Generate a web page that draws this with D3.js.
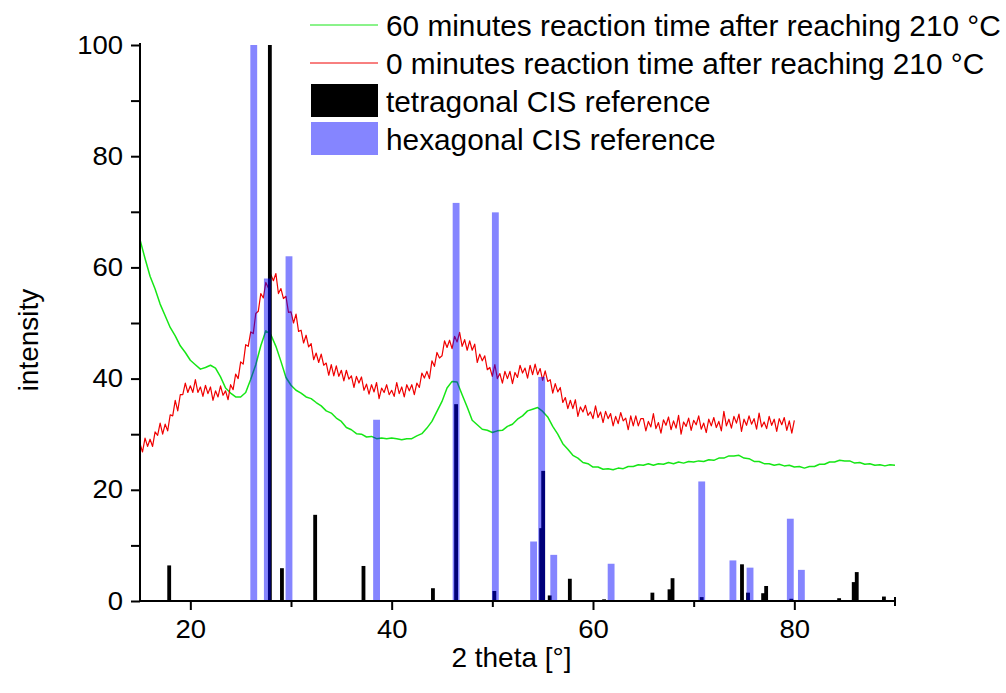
<!DOCTYPE html>
<html>
<head>
<meta charset="utf-8">
<script src="https://cdn.jsdelivr.net/npm/d3@7/dist/d3.min.js"></script>
<style>
  html, body { margin: 0; padding: 0; background: #fff; }
  svg { display: block; font-family: "Liberation Sans", Arial, sans-serif; }
</style>
</head>
<body>
<svg id="chart" width="1006" height="693"></svg>
<script>
// ---------- DATA ----------
const legendLabels = [
  "60 minutes reaction time after reaching 210 °C",
  "0 minutes reaction time after reaching 210 °C",
  "tetragonal CIS reference",
  "hexagonal CIS reference"
];
const xTicksMajor = [20, 40, 60, 80];
const xTicksMinor = [30, 50, 70];
const yTicks = [0, 10, 20, 30, 40, 50, 60, 70, 80, 90, 100];
const yTickLabels = [0, 20, 40, 60, 80, 100];
const xTitle = "2 theta [°]";
const yTitle = "intensity";

// 60 min pattern (green), sampled every 0.5° starting at 15°
const green60Start = 15, green60Step = 0.5;
const green60 = [
  65.0, 61.6, 58.4, 56.1, 53.4, 51.3, 49.2, 47.7, 45.9, 44.7,
  43.3, 42.5, 41.7, 42.0, 42.4, 41.9, 40.3, 38.3, 37.4, 36.7,
  36.7, 37.5, 39.9, 42.5, 45.9, 48.6, 47.9, 45.8, 43.1, 40.2,
  38.8, 37.9, 37.4, 36.7, 36.4, 35.7, 35.1, 34.2, 33.8, 32.9,
  32.3, 31.2, 30.8, 30.1, 30.0, 29.5, 29.6, 29.2, 29.3, 29.2,
  29.3, 29.2, 29.0, 29.2, 29.2, 29.7, 30.1, 31.1, 32.3, 34.1,
  35.9, 38.3, 39.5, 39.4, 37.1, 34.9, 32.5, 31.7, 30.9, 30.7,
  30.3, 30.6, 30.7, 31.4, 31.8, 32.7, 33.3, 34.2, 34.5, 34.8,
  34.1, 33.1, 31.4, 30.0, 28.3, 27.3, 26.2, 25.7, 24.9, 24.7,
  24.1, 24.1, 23.7, 23.8, 23.6, 23.9, 23.8, 24.2, 24.2, 24.5,
  24.4, 24.7, 24.4, 24.7, 24.6, 24.9, 24.7, 25.0, 24.8, 25.1,
  25.0, 25.2, 25.1, 25.4, 25.3, 25.7, 25.7, 26.1, 26.1, 26.2,
  25.7, 25.6, 25.1, 25.1, 24.7, 24.7, 24.4, 24.6, 24.3, 24.4,
  24.1, 24.2, 23.9, 24.2, 24.2, 24.6, 24.6, 25.0, 25.0, 25.3,
  25.2, 25.2, 24.8, 24.9, 24.6, 24.7, 24.4, 24.5, 24.3, 24.5,
  24.4
];

// 0 min pattern (red), sampled every 0.25° starting at 15°
const red0Start = 15, red0Step = 0.25;
const red0 = [
  28.3, 26.8, 29.3, 27.8, 29.1, 27.8, 30.4, 29.8, 32.0, 30.0,
  31.8, 30.6, 33.5, 33.3, 36.1, 34.2, 37.1, 37.1, 39.2, 37.5,
  38.7, 37.5, 39.8, 37.5, 38.5, 36.8, 38.8, 37.3, 38.5, 36.1,
  37.8, 36.7, 38.7, 37.0, 37.8, 36.2, 38.9, 38.0, 40.8, 40.0,
  43.0, 42.6, 46.1, 45.8, 48.4, 48.1, 51.7, 52.1, 55.3, 54.5,
  57.3, 56.3, 58.7, 57.6, 58.9, 55.3, 56.2, 54.4, 54.8, 51.9,
  52.0, 50.0, 51.6, 48.5, 48.7, 46.4, 47.8, 45.7, 46.3, 43.4,
  44.6, 42.9, 44.4, 42.4, 42.8, 40.6, 42.5, 40.5, 42.3, 40.4,
  41.5, 39.6, 41.5, 39.9, 40.5, 38.4, 40.4, 39.2, 40.3, 37.9,
  39.0, 37.2, 38.9, 37.6, 39.3, 36.4, 38.3, 37.5, 38.9, 37.1,
  37.9, 36.8, 39.3, 37.3, 38.5, 36.7, 38.9, 37.8, 38.9, 37.1,
  39.2, 38.4, 41.0, 40.1, 41.3, 40.0, 43.2, 42.2, 44.7, 43.7,
  44.1, 46.8, 45.6, 46.9, 45.4, 47.6, 46.6, 48.3, 45.8, 47.0,
  45.1, 46.8, 45.1, 46.2, 42.9, 44.4, 43.2, 44.1, 41.6, 42.0,
  40.4, 42.5, 40.0, 40.9, 39.2, 41.3, 40.0, 41.3, 39.1, 41.1,
  40.2, 42.4, 41.0, 41.9, 40.1, 42.4, 40.7, 42.6, 40.7, 41.8,
  39.7, 41.4, 39.5, 39.8, 37.4, 39.1, 37.6, 38.4, 35.7, 36.6,
  34.6, 36.1, 34.6, 36.2, 33.2, 34.9, 34.0, 35.2, 33.4, 34.0,
  32.8, 35.1, 33.0, 34.0, 32.1, 34.1, 32.8, 33.7, 31.5, 33.2,
  31.9, 33.9, 32.4, 32.9, 30.8, 33.3, 31.5, 33.3, 31.5, 32.8,
  32.8, 30.6, 32.3, 31.3, 33.7, 31.0, 32.1, 30.2, 32.6, 31.6,
  33.1, 30.8, 32.4, 31.1, 33.4, 30.0, 32.2, 31.4, 32.9, 30.7,
  32.5, 31.7, 33.3, 30.9, 32.0, 30.3, 32.7, 31.5, 33.0, 31.2,
  32.3, 30.6, 34.1, 31.5, 32.7, 31.1, 33.2, 32.0, 33.6, 30.5,
  32.7, 31.6, 33.3, 31.8, 32.8, 30.9, 33.8, 31.3, 32.2, 31.0,
  33.2, 31.6, 32.7, 30.5, 32.8, 31.7, 33.0, 30.7, 32.4, 30.2,
  32.5
];

// tetragonal CIS reference: 2theta positions and relative intensities
const tetraPos = [17.9, 27.9, 29.1, 32.4, 37.2, 44.1, 46.4, 50.2, 54.85, 55.05,
                  55.7, 57.7, 61.1, 65.9, 67.6, 67.9, 70.8, 74.8, 75.4, 76.9,
                  77.2, 79.7, 84.45, 85.9, 86.2, 88.9];
const tetraInt = [6.4, 100, 5.9, 15.5, 6.3, 2.3, 35.4, 1.8, 13.1, 23.4,
                  1.0, 4.0, 0.3, 1.5, 2.1, 4.1, 0.7, 6.6, 1.5, 1.4,
                  2.7, 0.4, 0.5, 3.4, 5.2, 0.8];

// hexagonal CIS reference
const hexPos = [26.3, 27.65, 29.8, 38.5, 46.4, 50.3, 54.1, 54.9, 56.1, 61.8,
                70.8, 73.9, 75.6, 79.6, 80.7];
const hexInt = [100, 58, 62, 32.6, 71.6, 69.9, 10.7, 40.3, 8.3, 6.7,
                21.5, 7.3, 6.0, 14.8, 5.6];

// ---------- CHART ----------
const svg = d3.select("#chart");
svg.append("rect").attr("width", 1006).attr("height", 693).attr("fill", "#fff");

const x = d3.scaleLinear().domain([15, 90]).range([140, 895]);
const y = d3.scaleLinear().domain([0, 100]).range([601, 45]);

const greenPts = green60.map((v, i) => [green60Start + i * green60Step, v]);
const redPts = red0.map((v, i) => [red0Start + i * red0Step, v]);

const line = d3.line().x(d => x(d[0])).y(d => y(d[1]));

svg.append("path").datum(greenPts).attr("d", line)
  .attr("fill", "none").attr("stroke", "#16e616").attr("stroke-width", 1.5)
  .attr("stroke-linejoin", "round");
svg.append("path").datum(redPts).attr("d", line)
  .attr("fill", "none").attr("stroke", "#f00000").attr("stroke-width", 1.2)
  .attr("stroke-linejoin", "round");

const tetraW = 0.38, hexW = 0.68;
svg.append("g").selectAll("rect").data(tetraPos).join("rect")
  .attr("x", d => x(d - tetraW / 2))
  .attr("width", d => x(d + tetraW / 2) - x(d - tetraW / 2))
  .attr("y", (d, i) => y(tetraInt[i]))
  .attr("height", (d, i) => y(0) - y(tetraInt[i]))
  .attr("fill", "#000");

svg.append("g").selectAll("rect").data(hexPos).join("rect")
  .attr("x", d => x(d - hexW / 2))
  .attr("width", d => x(d + hexW / 2) - x(d - hexW / 2))
  .attr("y", (d, i) => y(hexInt[i]))
  .attr("height", (d, i) => y(0) - y(hexInt[i]))
  .attr("fill", "rgba(0,0,255,0.48)");

// axes
const yAxis = d3.axisLeft(y).tickValues(yTicks).tickSize(9).tickPadding(8)
  .tickFormat(d => yTickLabels.includes(d) ? String(d) : "");
const gy = svg.append("g").attr("transform", "translate(140,0)").call(yAxis);
gy.select(".domain").attr("d", `M0,${y(0)}V${y(100) - 2}`);

const xAxisMaj = d3.axisBottom(x).tickValues(xTicksMajor).tickSize(9).tickPadding(10);
const gx = svg.append("g").attr("transform", `translate(0,${y(0)})`).call(xAxisMaj);
gx.select(".domain").attr("d", `M${x(15) - 1},0H${x(90)}`);
const xAxisMin = d3.axisBottom(x).tickValues(xTicksMinor).tickSize(6).tickFormat("");
const gxm = svg.append("g").attr("transform", `translate(0,${y(0)})`).call(xAxisMin);
gxm.select(".domain").remove();
// end tick at right border
svg.append("line").attr("x1", x(90)).attr("x2", x(90))
  .attr("y1", y(0) - 4).attr("y2", y(0) + 5).attr("stroke", "#000").attr("stroke-width", 2);

const sx = 1.1;
[gy, gx, gxm].forEach(g => {
  g.selectAll(".domain").attr("stroke", "#000").attr("stroke-width", 2);
  g.selectAll(".tick line").attr("stroke", "#000").attr("stroke-width", 2);
  g.selectAll(".tick text").attr("fill", "#000")
    .style("font-family", '"Liberation Sans", Arial, sans-serif').style("font-size", "25px");
});
// slightly wide tick digits as in the original
gy.selectAll(".tick text").each(function () {
  const t = d3.select(this);
  const x0 = +t.attr("x");
  t.attr("x", x0 / sx).attr("transform", `scale(${sx},1)`);
});
gx.selectAll(".tick text").attr("transform", `scale(${sx},1)`);

svg.append("text").attr("x", x(52.5) - 6).attr("y", 667).attr("text-anchor", "middle")
  .style("font-size", "28px").attr("fill", "#000").text(xTitle);
svg.append("text").attr("transform", "translate(38,340) rotate(-90)").attr("text-anchor", "middle")
  .style("font-size", "28px").attr("fill", "#000").text(yTitle);

// legend
const lg = svg.append("g");
const lx0 = 310, lx1 = 378, tx = 386;
const rowsY = [25, 63, 101, 139];
lg.append("line").attr("x1", lx0).attr("x2", lx1).attr("y1", rowsY[0]).attr("y2", rowsY[0])
  .attr("stroke", "#16e616").attr("stroke-width", 1);
lg.append("line").attr("x1", lx0).attr("x2", lx1).attr("y1", rowsY[1]).attr("y2", rowsY[1])
  .attr("stroke", "#f00000").attr("stroke-width", 1);
lg.append("rect").attr("x", 311).attr("y", rowsY[2] - 17).attr("width", 67).attr("height", 33).attr("fill", "#000");
lg.append("rect").attr("x", 311).attr("y", rowsY[3] - 17).attr("width", 67).attr("height", 33).attr("fill", "rgba(0,0,255,0.48)");
lg.selectAll("text.leg").data(legendLabels).join("text").attr("class", "leg")
  .attr("x", tx).attr("y", (d, i) => rowsY[i]).attr("dy", "0.36em")
  .style("font-size", "29.8px").attr("fill", "#000").text(d => d);
</script>
</body>
</html>
